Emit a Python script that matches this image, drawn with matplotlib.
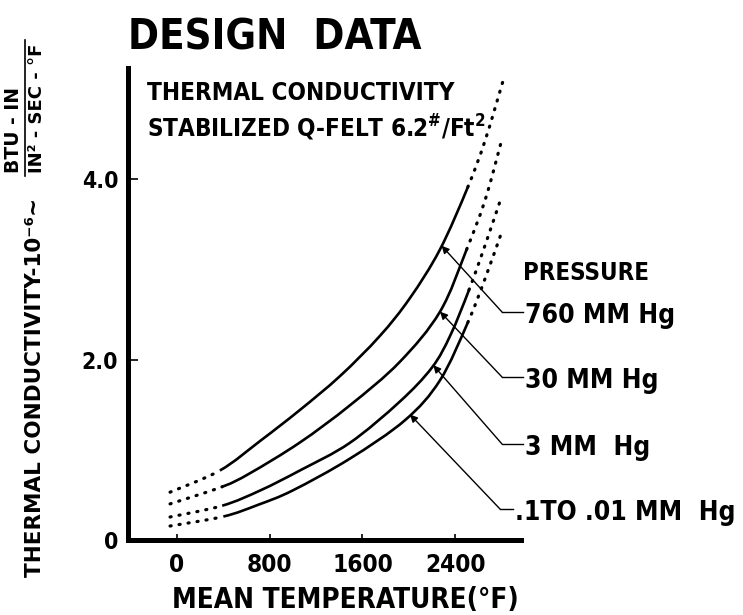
import matplotlib
matplotlib.use("Agg")
import matplotlib.pyplot as plt
from matplotlib.lines import Line2D
from matplotlib.path import Path
from matplotlib.patches import PathPatch
import numpy as np

# ---- data ----
temps_760 = [-60, 370, 720, 1060, 1410, 1750, 2010, 2270, 2510, 2660, 2810]
k_760 = [0.53, 0.77, 1.10, 1.44, 1.82, 2.26, 2.68, 3.22, 3.91, 4.43, 5.07]
temps_30 = [-60, 390, 630, 1060, 1490, 1920, 2270, 2500, 2660, 2800]
k_30 = [0.40, 0.59, 0.74, 1.08, 1.49, 1.97, 2.53, 3.22, 3.77, 4.42]
temps_3 = [-60, 390, 720, 1060, 1490, 1920, 2200, 2360, 2520, 2660, 2800]
k_3 = [0.255, 0.38, 0.55, 0.77, 1.075, 1.53, 1.91, 2.27, 2.77, 3.27, 3.80]
temps_01 = [-60, 400, 700, 1000, 1490, 1970, 2270, 2510, 2660, 2810]
k_01 = [0.155, 0.26, 0.39, 0.55, 0.90, 1.33, 1.77, 2.41, 2.90, 3.44]

pressure_labels = ["760 MM Hg", "30 MM Hg", "3 MM  Hg", ".1TO .01 MM  Hg"]
arrow_temps = [2284, 2270, 2212, 2011]

x_ticks = [0, 800, 1600, 2400]
x_ticklabels = ["0", "800", "1600", "2400"]
y_ticks = [0, 2.0, 4.0]
y_ticklabels = ["0", "2.0", "4.0"]

curves = [(temps_760, k_760), (temps_30, k_30), (temps_3, k_3), (temps_01, k_01)]

plt.rcParams['font.family'] = ['DejaVu Sans']
plt.rcParams['font.stretch'] = 'condensed'
plt.rcParams['font.weight'] = 'bold'
plt.rcParams['mathtext.fontset'] = 'custom'
plt.rcParams['mathtext.rm'] = 'DejaVu Sans:bold'
plt.rcParams['mathtext.it'] = 'DejaVu Sans:bold'
plt.rcParams['mathtext.bf'] = 'DejaVu Sans:bold'

W, H = 743, 615
fig = plt.figure(figsize=(W / 100, H / 100), dpi=100)


def fx(px):
    return px / W


def fy(py):
    return 1 - py / H


ax = fig.add_axes([fx(128), fy(540), fx(521) - fx(128), fy(68) - fy(540)])
ax.set_xlim(-423, 2969)
ax.set_ylim(0, 5.23)

for s in ["top", "right"]:
    ax.spines[s].set_visible(False)
for s in ["left", "bottom"]:
    ax.spines[s].set_linewidth(3.6)
    ax.spines[s].set_capstyle("projecting")

ax.set_xticks(x_ticks)
ax.set_xticklabels(x_ticklabels)
ax.set_yticks(y_ticks)
ax.set_yticklabels(y_ticklabels)
ax.tick_params(axis="x", direction="in", length=4, width=1.2, pad=9, labelsize=17.5)
ax.tick_params(axis="y", direction="in", length=7, width=1.2, pad=7, labelsize=16.5)


def smooth_path(t, k, i0, i1):
    P = np.column_stack([t, k]).astype(float)
    n = len(P)
    verts = [P[i0]]
    codes = [Path.MOVETO]
    for i in range(i0, i1):
        p0 = P[i - 1] if i > 0 else P[i]
        p1 = P[i]
        p2 = P[i + 1]
        p3 = P[i + 2] if i + 2 < n else P[i + 1]
        verts += [p1 + (p2 - p0) / 6, p2 - (p3 - p1) / 6, p2]
        codes += [Path.CURVE4] * 3
    return Path(verts, codes)


for t, k in curves:
    n = len(t)
    for i0, i1, dotted in [(0, 1, True), (1, n - 3, False), (n - 3, n - 1, True)]:
        patch = PathPatch(smooth_path(t, k, i0, i1), facecolor="none", edgecolor="black",
                          lw=2.3 if dotted else 1.9,
                          linestyle=(0, (0.35, 2.5)) if dotted else "-")
        patch.set_capstyle("round" if dotted else "butt")
        ax.add_patch(patch)

# leaders + labels
label_base = [323, 388, 455, 520]
elbow_px = [(502, 312), (502, 377), (502, 444), (500, 509)]
label_x = [525, 525, 525, 515]
for (t, k), lab, at, base, (ex, ey), lx in zip(curves, pressure_labels, arrow_temps,
                                              label_base, elbow_px, label_x):
    target = (at, np.interp(at, t, k))
    ax.annotate("", xy=target, xycoords="data",
                xytext=(ex, H - ey), textcoords="figure pixels",
                arrowprops=dict(arrowstyle="-|>", lw=1.0, color="black",
                                shrinkA=0, shrinkB=0, mutation_scale=11))
    fig.add_artist(Line2D([fx(ex), fx(lx - 2)], [fy(ey), fy(ey)],
                          transform=fig.transFigure, color="black", lw=1.0))
    fig.text(fx(lx), fy(base), lab, fontsize=19, ha="left", va="baseline")

fig.text(fx(523), fy(280), "PRESSURE", fontsize=17.3, ha="left", va="baseline")

fig.text(fx(128), fy(50), "DESIGN  DATA", fontsize=30, ha="left", va="baseline")
fig.text(fx(147), fy(100), "THERMAL CONDUCTIVITY", fontsize=17.4, ha="left", va="baseline")
fig.text(fx(147), fy(137), r"STABILIZED Q-FELT 6.2$^{\#}$/Ft$^{2}$", fontsize=17.4,
         ha="left", va="baseline")

fig.text(fx(345), fy(608), "MEAN TEMPERATURE(°F)", fontsize=20, ha="center", va="baseline")

# y-axis label: main line + hand-drawn fraction
fig.text(fx(45), fy(577), "THERMAL CONDUCTIVITY-10⁻⁶~", fontsize=15.5,
         fontstretch="normal", rotation=90, ha="right", va="bottom")
fig.text(fx(23), fy(173), "BTU - IN", fontsize=13.5, fontstretch="normal",
         rotation=90, ha="right", va="bottom")
fig.text(fx(46), fy(173), "IN² - SEC - °F", fontsize=13, fontstretch="normal",
         rotation=90, ha="right", va="bottom")
fig.add_artist(Line2D([fx(25), fx(25)], [fy(176), fy(40)],
                      transform=fig.transFigure, color="black", lw=1.2))

fig.savefig("out.png", dpi=100)
